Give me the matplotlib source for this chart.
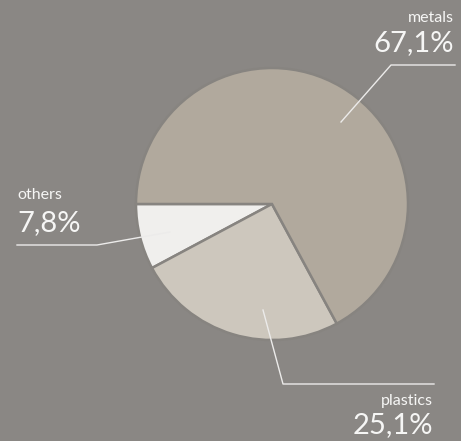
import numpy as np
import matplotlib.pyplot as plt

# donnees
categories = ["others", "plastics", "metals"]
shares = [7.8, 25.1, 67.1]
labels_txt = ["7,8%", "25,1%", "67,1%"]
colors = ["#f0efed", "#cdc7bd", "#b1a99d"]

W, H = 461, 441
bg = "#8a8784"

fig = plt.figure(figsize=(W / 100, H / 100), dpi=100, facecolor=bg)
ax = fig.add_axes([0, 0, 1, 1])
ax.set_facecolor(bg)

cx, cy, r = 272, H - 204, 136
ax.pie(shares, colors=colors, startangle=180, counterclock=True,
       center=(cx, cy), radius=r, frame=True,
       wedgeprops=dict(edgecolor="#878480", linewidth=1.8))
ax.set_xlim(0, W)
ax.set_ylim(0, H)
ax.set_aspect("equal")
ax.axis("off")

# lignes de rappel (coord. pixels, y vers le bas)
leaders = {
    "metals": [(341, 122), (391, 65), (455, 65)],
    "others": [(170, 232), (97, 245), (17, 245)],
    "plastics": [(263, 310), (283, 384), (434, 384)],
}
for pts in leaders.values():
    xs = [p[0] for p in pts]
    ys = [H - p[1] for p in pts]
    ax.plot(xs, ys, color="#ecebea", lw=1.0)

fam = ["Lato", "DejaVu Sans"]
tc = "#f6f6f5"
# positions des textes
txt = {
    "metals": (454, 18, 43, "right"),
    "others": (17, 195, 223, "left"),
    "plastics": (433, 401, 425, "right"),
}
for i, cat in enumerate(categories):
    x, y1, y2, ha = txt[cat]
    ax.text(x, H - y1, cat, color=tc, fontsize=11.5, family=fam,
            weight="normal", ha=ha, va="center")
    ax.text(x, H - y2, labels_txt[i], color=tc, fontsize=21, family=fam,
            weight="normal", ha=ha, va="center")

fig.savefig("out.png", dpi=100, facecolor=bg)
